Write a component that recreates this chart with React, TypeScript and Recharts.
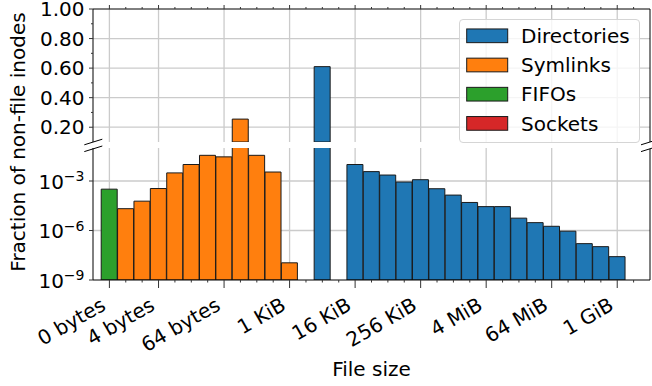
import React from "react";
import { BarChart, Bar, Cell, XAxis, YAxis, CartesianGrid, Legend } from "recharts";

// log2 size bins, "0 bytes" gets its own slot
const bins = [
  "0 bytes", "1 byte", "2 bytes", "4 bytes", "8 bytes", "16 bytes", "32 bytes", "64 bytes",
  "128 bytes", "256 bytes", "512 bytes", "1 KiB", "2 KiB", "4 KiB", "8 KiB", "16 KiB",
  "32 KiB", "64 KiB", "128 KiB", "256 KiB", "512 KiB", "1 MiB", "2 MiB", "4 MiB",
  "8 MiB", "16 MiB", "32 MiB", "64 MiB", "128 MiB", "256 MiB", "512 MiB", "1 GiB", "2 GiB",
];
const tickLabels = ["0 bytes", "4 bytes", "64 bytes", "1 KiB", "16 KiB", "256 KiB", "4 MiB", "64 MiB", "1 GiB"];

const seriesNames = ["Directories", "Symlinks", "FIFOs", "Sockets"];
const seriesColors = ["#1f77b4", "#ff7f0e", "#2ca02c", "#d62728"];

const directories = [
  null, null, null, null, null, null, null, null, null, null, null, null, null, 0.61, null, 1.0e-2,
  3.7e-3, 2.3e-3, 8.7e-4, 1.2e-3, 3.4e-4, 1.4e-4, 5.0e-5, 2.8e-5, 2.8e-5, 5.6e-6, 3.0e-6, 1.8e-6,
  9.1e-7, 1.6e-7, 1.05e-7, 2.6e-8, null,
];
const symlinks = [
  null, 2.1e-5, 6.0e-5, 3.5e-4, 3.1e-3, 1.0e-2, 3.6e-2, 2.9e-2, 0.255, 3.6e-2, 3.5e-3, 1.1e-8,
  null, null, null, null, null, null, null, null, null, null, null, null, null, null, null, null,
  null, null, null, null, null,
];
const fifos = [3.2e-4, ...Array(32).fill(null)];
const sockets = Array(33).fill(null);

const linearTicks = [0.2, 0.3, 0.4, 0.5, 0.6, 0.7, 0.8, 0.9, 1.0];
const linearLabels = [0.2, 0.4, 0.6, 0.8, 1.0];
const logTicks = [1e-9, 1e-6, 1e-3];

const series = [directories, symlinks, fifos, sockets];
const rows = bins.map((bin, i) => {
  const kind = series.findIndex((s) => s[i] != null);
  const value = kind >= 0 ? (series[kind][i] as number) : null;
  return { bin, kind, value, upper: value != null && value >= 0.1 ? value : null };
});

const W = 652;
const H = 386;
const FONT = "'DejaVu Sans', sans-serif";
const FS = 20;
const GRID = "#cbcbcb";

const BottomTick = (props: any) => {
  const { x, y, payload } = props;
  const major = tickLabels.includes(payload.value);
  return (
    <g>
      <line x1={x} x2={x} y1={y} y2={y + (major ? 8 : 2.5)} stroke="#333" />
      {major && (
        <text
          transform={`translate(${x - 2.4},${y + 29}) rotate(-30)`}
          textAnchor="end"
          fontSize={FS}
          fontFamily={FONT}
          fill="#000"
        >
          {payload.value}
        </text>
      )}
    </g>
  );
};

const TopTick = (props: any) => {
  const { x, y, payload } = props;
  const major = tickLabels.includes(payload.value);
  return <line x1={x} x2={x} y1={y} y2={y - (major ? 4 : 2)} stroke="#333" />;
};

const LinearTick = (props: any) => {
  const { x, y, payload } = props;
  const major = linearLabels.includes(payload.value);
  return (
    <g>
      <line x1={x - (major ? 4 : 2)} x2={x} y1={y} y2={y} stroke="#333" />
      {major && (
        <text x={x - 8.5} y={y + 7.2} textAnchor="end" fontSize={FS} fontFamily={FONT} fill="#000">
          {payload.value.toFixed(2)}
        </text>
      )}
    </g>
  );
};

const LogTick = (props: any) => {
  const { x, y, payload } = props;
  const exp = Math.round(Math.log10(payload.value));
  return (
    <g>
      <line x1={x - 4} x2={x} y1={y} y2={y} stroke="#333" />
      <text x={x - 8.5} y={y + 7.7} textAnchor="end" fontSize={FS} fontFamily={FONT} fill="#000">
        <tspan>10</tspan>
        <tspan dy={-7.4} fontSize={14}>{"\u2212" + Math.abs(exp)}</tspan>
      </text>
    </g>
  );
};

const XTitle = (props: any) => {
  const { viewBox } = props;
  return (
    <text x={viewBox.x + viewBox.width / 2} y={376} textAnchor="middle" fontSize={FS} fontFamily={FONT} fill="#000">
      File size
    </text>
  );
};

const LegendBox = () => (
  <div
    style={{
      width: 181,
      height: 124,
      boxSizing: "border-box",
      border: "1px solid #d5d5d5",
      borderRadius: 4,
      background: "rgba(255,255,255,0.8)",
    }}
  >
    <svg width={179} height={122} style={{ display: "block" }}>
      {seriesNames.map((name, i) => {
        const cy = 15.8 + i * 29.2;
        return (
          <g key={name}>
            <rect x={6.7} y={cy - 6.85} width={41} height={13.7} fill={seriesColors[i]} stroke="#1a1a1a" />
            <text x={61} y={cy + 7.2} fontSize={FS} fontFamily={FONT} fill="#000">
              {name}
            </text>
          </g>
        );
      })}
    </svg>
  </div>
);

const cells = rows.map((r, i) => <Cell key={i} fill={r.kind >= 0 ? seriesColors[r.kind] : "none"} />);

const xPad = { left: 8.2, right: 8.2 };

export default function App() {
  return (
    <div style={{ position: "absolute", left: 0, top: 0, width: W, height: H, background: "#fff" }}>
      {/* lower panel: log scale */}
      <div style={{ position: "absolute", left: 0, top: 0 }}>
        <BarChart
          width={W}
          height={H}
          data={rows}
          margin={{ top: 148, right: 2, bottom: H - 281, left: 0 }}
          barCategoryGap={0}
          barGap={0}
        >
          <CartesianGrid stroke={GRID} strokeWidth={1.3} verticalValues={tickLabels} horizontalValues={[1e-6, 1e-3]} />
          <XAxis
            dataKey="bin"
            height={1}
            padding={xPad}
            interval={0}
            tickLine={false}
            tickSize={0}
            tickMargin={0}
            tick={<BottomTick />}
            axisLine={{ stroke: "#000" }}
            label={<XTitle />}
          />
          <YAxis
            width={93}
            type="number"
            scale="log"
            domain={[1e-9, 1e-1]}
            allowDataOverflow
            ticks={logTicks}
            interval={0}
            tickLine={false}
            tickSize={0}
            tickMargin={0}
            tick={<LogTick />}
            axisLine={{ stroke: "#000" }}
          />
          <Bar dataKey="value" isAnimationActive={false} stroke="#1a1a1a" strokeWidth={1}>
            {cells}
          </Bar>
        </BarChart>
      </div>

      {/* upper panel: linear scale */}
      <div style={{ position: "absolute", left: 0, top: 0 }}>
        <BarChart
          width={W}
          height={H}
          data={rows}
          margin={{ top: 8, right: 2, bottom: H - 142, left: 0 }}
          barCategoryGap={0}
          barGap={0}
        >
          <CartesianGrid stroke={GRID} strokeWidth={1.3} verticalValues={tickLabels} horizontalValues={[0.2, 0.4, 0.6, 0.8]} />
          <XAxis
            dataKey="bin"
            orientation="top"
            height={1}
            padding={xPad}
            interval={0}
            tickLine={false}
            tickSize={0}
            tickMargin={0}
            tick={<TopTick />}
            axisLine={{ stroke: "#000" }}
          />
          <YAxis
            width={93}
            type="number"
            domain={[0.1, 1]}
            allowDataOverflow
            ticks={linearTicks}
            interval={0}
            tickLine={false}
            tickSize={0}
            tickMargin={0}
            tick={<LinearTick />}
            axisLine={{ stroke: "#000" }}
          />
          <Bar dataKey="upper" isAnimationActive={false} stroke="#1a1a1a" strokeWidth={1}>
            {cells}
          </Bar>
          <Legend
            layout="vertical"
            align="center"
            verticalAlign="middle"
            wrapperStyle={{ left: 459, top: 19, width: 181, height: 124 }}
            content={() => <LegendBox />}
          />
        </BarChart>
      </div>

      {/* y title, right spines and break marks */}
      <svg width={W} height={H} style={{ position: "absolute", left: 0, top: 0, pointerEvents: "none" }}>
        <text transform="translate(25,142) rotate(-90)" textAnchor="middle" fontSize={FS} fontFamily={FONT} fill="#000">
          Fraction of non-file inodes
        </text>
        <line x1={650} x2={650} y1={9} y2={142} stroke="#000" />
        <line x1={650} x2={650} y1={148.8} y2={280} stroke="#000" />
        {[93.3, 650].map((bx) =>
          [142, 148.8].map((by) => (
            <line key={`${bx}-${by}`} x1={bx - 9} y1={by + 2.8} x2={bx + 9} y2={by - 2.8} stroke="#000" strokeWidth={1} />
          ))
        )}
      </svg>
    </div>
  );
}
